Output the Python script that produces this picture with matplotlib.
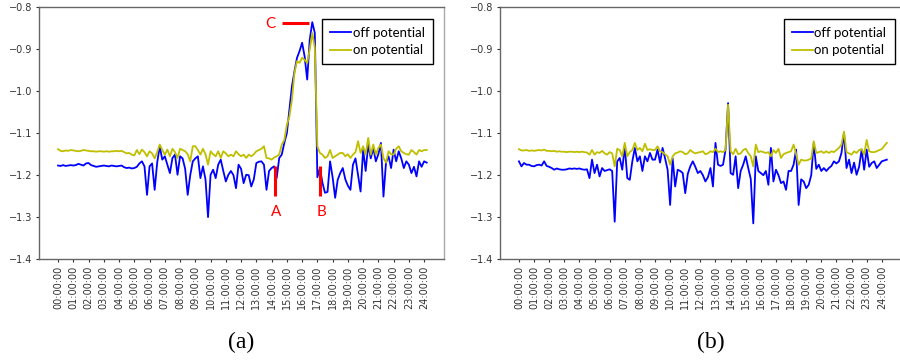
import numpy as np
import matplotlib
matplotlib.use("Agg")
import matplotlib.pyplot as plt

# potentials sampled every 10 minutes, one row per hour

off_a = [
    -1.177, -1.178, -1.176, -1.178, -1.177, -1.176,
    -1.177, -1.176, -1.173, -1.175, -1.177, -1.172,
    -1.171, -1.176, -1.178, -1.180, -1.179, -1.178,
    -1.177, -1.178, -1.179, -1.177, -1.178, -1.179,
    -1.178, -1.177, -1.181, -1.183, -1.182, -1.184,
    -1.183, -1.180, -1.172, -1.167, -1.179, -1.247,
    -1.179, -1.172, -1.235, -1.170, -1.131, -1.163,
    -1.155, -1.175, -1.195, -1.159, -1.151, -1.199,
    -1.155, -1.160, -1.185, -1.247, -1.200, -1.167,
    -1.160, -1.155, -1.207, -1.179, -1.210, -1.300,
    -1.199, -1.187, -1.207, -1.175, -1.163, -1.190,
    -1.215, -1.199, -1.190, -1.200, -1.231, -1.175,
    -1.185, -1.219, -1.199, -1.200, -1.227, -1.210,
    -1.171, -1.168, -1.167, -1.175, -1.235, -1.190,
    -1.183, -1.179, -1.207, -1.159, -1.151, -1.123,
    -1.100, -1.044, -0.988, -0.952, -0.920, -0.904,
    -0.884, -0.917, -0.972, -0.877, -0.835, -0.861,
    -1.205, -1.183, -1.218, -1.242, -1.240, -1.167,
    -1.205, -1.254, -1.211, -1.195, -1.183, -1.210,
    -1.225, -1.235, -1.175, -1.160, -1.200, -1.239,
    -1.139, -1.190, -1.127, -1.160, -1.135, -1.167,
    -1.150, -1.123, -1.251, -1.170, -1.155, -1.183,
    -1.139, -1.167, -1.143, -1.160, -1.183, -1.167,
    -1.175, -1.195, -1.180, -1.203, -1.167, -1.180,
    -1.167, -1.170,
]

on_a = [
    -1.138, -1.142, -1.143, -1.141, -1.142, -1.140,
    -1.141, -1.142, -1.143, -1.142, -1.140, -1.141,
    -1.142, -1.143, -1.143, -1.144, -1.143, -1.143,
    -1.144, -1.143, -1.144, -1.143, -1.143, -1.142,
    -1.143, -1.142, -1.145, -1.148, -1.147, -1.151,
    -1.153, -1.140, -1.150, -1.139, -1.145, -1.155,
    -1.143, -1.148, -1.160, -1.145, -1.127, -1.140,
    -1.151, -1.139, -1.155, -1.137, -1.145, -1.159,
    -1.137, -1.140, -1.143, -1.150, -1.167, -1.131,
    -1.131, -1.140, -1.151, -1.137, -1.150, -1.175,
    -1.143, -1.150, -1.155, -1.143, -1.159, -1.143,
    -1.148, -1.155, -1.151, -1.155, -1.143, -1.150,
    -1.155, -1.151, -1.159, -1.151, -1.155, -1.150,
    -1.143, -1.140, -1.137, -1.131, -1.159, -1.160,
    -1.163, -1.158, -1.155, -1.151, -1.127, -1.116,
    -1.080, -1.060, -1.020, -0.956, -0.928, -0.932,
    -0.920, -0.925, -0.932, -0.900, -0.861, -0.896,
    -1.131, -1.147, -1.151, -1.159, -1.155, -1.140,
    -1.159, -1.155, -1.151, -1.147, -1.147, -1.155,
    -1.150, -1.159, -1.151, -1.145, -1.119, -1.147,
    -1.131, -1.151, -1.111, -1.151, -1.127, -1.151,
    -1.135, -1.127, -1.159, -1.170, -1.143, -1.150,
    -1.151, -1.137, -1.131, -1.143, -1.147, -1.150,
    -1.151, -1.140, -1.145, -1.151, -1.140, -1.143,
    -1.140, -1.140,
]

off_b = [
    -1.167, -1.179, -1.171, -1.175, -1.175, -1.178,
    -1.179, -1.176, -1.175, -1.177, -1.167, -1.178,
    -1.180, -1.183, -1.187, -1.184, -1.186, -1.187,
    -1.187, -1.186, -1.184, -1.185, -1.184, -1.185,
    -1.184, -1.186, -1.187, -1.186, -1.207, -1.163,
    -1.195, -1.175, -1.203, -1.183, -1.190, -1.188,
    -1.186, -1.190, -1.311, -1.167, -1.159, -1.187,
    -1.131, -1.207, -1.211, -1.167, -1.135, -1.167,
    -1.155, -1.190, -1.155, -1.167, -1.147, -1.163,
    -1.163, -1.139, -1.170, -1.135, -1.160, -1.187,
    -1.271, -1.160, -1.227, -1.187, -1.190, -1.195,
    -1.243, -1.197, -1.179, -1.167, -1.180, -1.195,
    -1.190, -1.200, -1.215, -1.205, -1.183, -1.227,
    -1.123, -1.175, -1.178, -1.175, -1.139, -1.028,
    -1.195, -1.199, -1.155, -1.231, -1.190, -1.175,
    -1.155, -1.183, -1.209, -1.315, -1.155, -1.190,
    -1.195, -1.200, -1.190, -1.223, -1.135, -1.215,
    -1.187, -1.200, -1.219, -1.215, -1.235, -1.190,
    -1.190, -1.175, -1.139, -1.271, -1.210, -1.215,
    -1.231, -1.223, -1.200, -1.123, -1.185, -1.175,
    -1.190, -1.183, -1.190, -1.183, -1.178, -1.167,
    -1.172, -1.167, -1.147, -1.099, -1.183, -1.163,
    -1.195, -1.170, -1.199, -1.180, -1.139, -1.187,
    -1.139, -1.180, -1.171, -1.167, -1.183, -1.175,
    -1.167, -1.165, -1.163,
]

on_b = [
    -1.138, -1.141, -1.141, -1.140, -1.142, -1.141,
    -1.142, -1.141, -1.140, -1.141, -1.139, -1.142,
    -1.142, -1.143, -1.142, -1.144, -1.143, -1.144,
    -1.144, -1.145, -1.144, -1.144, -1.145, -1.144,
    -1.145, -1.144, -1.145, -1.146, -1.151, -1.140,
    -1.151, -1.145, -1.147, -1.142, -1.148, -1.151,
    -1.145, -1.148, -1.179, -1.137, -1.140, -1.155,
    -1.123, -1.155, -1.145, -1.140, -1.123, -1.140,
    -1.135, -1.143, -1.125, -1.140, -1.138, -1.140,
    -1.140, -1.131, -1.143, -1.145, -1.150, -1.155,
    -1.175, -1.155, -1.148, -1.146, -1.143, -1.145,
    -1.150, -1.148, -1.140, -1.145, -1.148, -1.146,
    -1.145, -1.143, -1.150, -1.148, -1.143, -1.145,
    -1.137, -1.145, -1.143, -1.145, -1.140, -1.032,
    -1.143, -1.150, -1.137, -1.150, -1.148, -1.140,
    -1.137, -1.147, -1.155, -1.179, -1.127, -1.145,
    -1.143, -1.145, -1.147, -1.145, -1.155, -1.140,
    -1.147, -1.137, -1.159, -1.150, -1.147, -1.145,
    -1.143, -1.127, -1.150, -1.175, -1.163, -1.165,
    -1.165, -1.163, -1.160, -1.119, -1.147, -1.145,
    -1.143, -1.147, -1.143, -1.147, -1.143, -1.145,
    -1.140, -1.135, -1.127, -1.096, -1.145, -1.148,
    -1.151, -1.143, -1.147, -1.140, -1.138, -1.151,
    -1.116, -1.143, -1.145, -1.145, -1.143, -1.140,
    -1.138, -1.130, -1.123,
]

hour_ticks = list(range(25))
hour_labels = [f"{h:02d}:00:00" for h in hour_ticks]
y_ticks = [-1.4, -1.3, -1.2, -1.1, -1.0, -0.9, -0.8]

BLUE = "#0000ff"
YELLOW = "#bfbf00"
RED = "#ff0000"


def style_axes(ax):
    ax.set_xlim(-1.25, 25.3)
    ax.set_ylim(-1.4, -0.8)
    ax.set_xticks(hour_ticks)
    ax.set_xticklabels(hour_labels, rotation=90)
    ax.set_yticks(y_ticks)
    ax.tick_params(labelsize=7, colors="#333333", length=2.5, width=0.8, pad=2.5)
    for side in ("left", "bottom", "top"):
        ax.spines[side].set_color("#666666")
    ax.spines["right"].set_color("#aaaaaa")
    for sp in ax.spines.values():
        sp.set_linewidth(1.0)


def draw_panel(ax, off, on, anchor_x):
    t_off = np.arange(len(off)) / 6.0
    t_on = np.arange(len(on)) / 6.0
    ax.plot(t_off, off, color=BLUE, lw=1.3, label="off potential")
    ax.plot(t_on, on, color=YELLOW, lw=1.3, label="on potential")
    style_axes(ax)
    leg = ax.legend(
        loc="upper right",
        bbox_to_anchor=(anchor_x, 0.955),
        borderaxespad=0,
        fancybox=False,
        edgecolor="black",
        framealpha=1,
        prop={"family": "Lato", "size": 9.5},
        handlelength=1.6,
        handletextpad=0.12,
        labelspacing=0.4,
        borderpad=0.62,
    )
    leg.get_frame().set_linewidth(1.0)


fig = plt.figure(figsize=(9, 3.62), dpi=100)
ax_a = fig.add_axes([0.0433, 0.2845, 0.45, 0.6948])
ax_b = fig.add_axes([0.5556, 0.2845, 0.446, 0.6948])

draw_panel(ax_a, off_a, on_a, 0.973)
draw_panel(ax_b, off_b, on_b, 0.983)

# red markers on panel (a)
ax_a.plot([14.24, 14.24], [-1.179, -1.249], color=RED, lw=2.2, solid_capstyle="butt")
ax_a.plot([17.17, 17.17], [-1.179, -1.249], color=RED, lw=2.2, solid_capstyle="butt")
ax_a.plot([14.68, 16.45], [-0.8366, -0.8366], color=RED, lw=2.2, solid_capstyle="butt")
mark_font = {"family": "Lato", "size": 11, "color": RED}
ax_a.text(14.33, -1.2876, "A", ha="center", va="center", **mark_font)
ax_a.text(17.24, -1.2876, "B", ha="center", va="center", **mark_font)
ax_a.text(13.91, -0.8387, "C", ha="center", va="center", **mark_font)

cap_font = {"family": "Liberation Serif", "size": 17}
fig.text(241 / 900, 0.053, "(a)", ha="center", va="center", **cap_font)
fig.text(711 / 900, 0.053, "(b)", ha="center", va="center", **cap_font)

fig.savefig("out.png", dpi=100)
